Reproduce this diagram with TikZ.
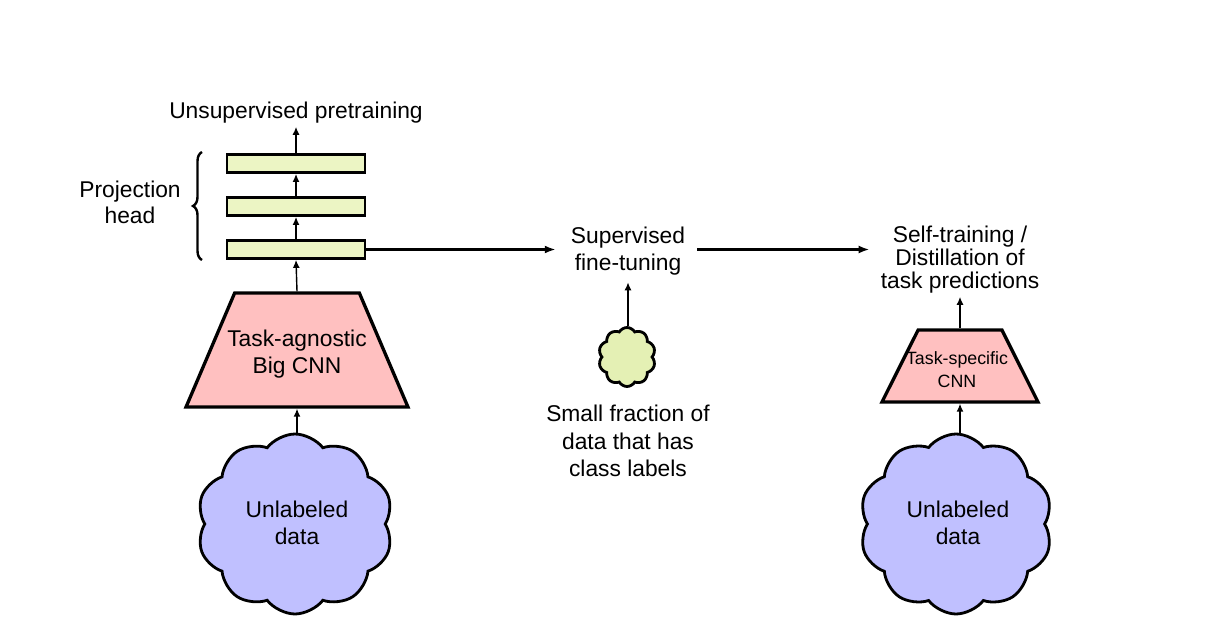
\documentclass[tikz,border=0pt]{standalone}
\usepackage{fontspec}
\setmainfont{Liberation Sans}
\usetikzlibrary{arrows.meta,shapes.geometric,shapes.symbols,decorations.pathreplacing}
\definecolor{barfill}{RGB}{236,245,196}
\definecolor{trapfill}{RGB}{255,192,192}
\definecolor{cloudfill}{RGB}{192,192,255}
\definecolor{smallcloud}{RGB}{228,240,180}
\begin{document}
\begin{tikzpicture}[x=1pt,y=-1pt,
  lbl/.style={align=center,inner sep=3pt,font=\fontsize{22.8}{27}\selectfont},
  bar/.style={draw,line width=2.8pt,fill=barfill,minimum width=138pt,minimum height=18pt,inner sep=0pt},
  trap/.style={draw,line width=3.3pt,fill=trapfill,trapezium,trapezium stretches=true,inner sep=2pt},
  datacloud/.style={draw,line width=2.8pt,fill=cloudfill,cloud,cloud puffs=10,cloud puff arc=105,aspect=1.1,inner sep=2pt},
  arr/.style={line width=1.4pt,-{Latex[length=8pt,width=7pt]}},
  harr/.style={line width=2.2pt,-{Latex[length=11pt,width=8pt]}}]
\useasboundingbox (0,0) rectangle (1218,640);

% left column
\node[lbl] (unsup) at (296,113) {Unsupervised pretraining};
\node[bar] (b1) at (296,163.5) {};
\node[bar] (b2) at (296,206.5) {};
\node[bar] (b3) at (296,249.5) {};
\draw[line width=2.4pt,decorate,decoration={brace,amplitude=9pt}] (202,260) -- (202,152);
\node[lbl,font=\fontsize{22.8}{26}\selectfont] (proj) at (130,202) {Projection\\head};
\node[trap,trapezium left angle=68.7,trapezium right angle=68.7,minimum width=222pt,minimum height=114pt] (big) at (297,350) {};
\node[lbl] (bigtxt) at (297,354) {Task-agnostic\\Big CNN};
\node[datacloud,minimum width=196pt,minimum height=180pt] (ul1) at (295,524) {};
\node[lbl,font=\fontsize{22.8}{27.5}\selectfont] (ul1txt) at (297,523) {Unlabeled\\data};

\draw[arr] (b1.north) -- (unsup.south);
\draw[arr] (b2.north) -- (b1.south);
\draw[arr] (b3.north) -- (b2.south);
\draw[arr] (big.north) -- (b3.south);
\draw[arr] (big.south |- ul1.north) -- (big.south);

% middle column
\node[lbl] (sup) at (628,251) {Supervised\\fine-tuning};
\node[draw,line width=2.8pt,fill=smallcloud,cloud,cloud puffs=10,cloud puff arc=120,aspect=1,
  minimum width=57pt,minimum height=59pt,inner sep=2pt] (sc) at (627,357) {};
\node[lbl,font=\fontsize{22.8}{27.5}\selectfont] (frac) at (628,441) {Small fraction of\\data that has\\class labels};
\draw[harr,shorten >=12pt] (b3.east) -- (b3.east -| sup.west);
\draw[arr] (sup.south |- sc.north) -- ([yshift=-4pt]sup.south);

% right column
\node[lbl,font=\fontsize{22.8}{23}\selectfont] (self) at (960,260) {Self-training /\\Distillation of\\task predictions};
\node[trap,trapezium left angle=66.7,trapezium right angle=66.7,minimum width=156pt,minimum height=72pt] (small) at (960,366) {};
\node[lbl,font=\fontsize{17.8}{23}\selectfont] (smalltxt) at (957,370) {Task-specific\\CNN};
\node[datacloud,minimum width=193pt,minimum height=180pt] (ul2) at (956,524) {};
\node[lbl,font=\fontsize{22.8}{27.5}\selectfont] (ul2txt) at (958,523) {Unlabeled\\data};
\draw[harr,shorten <=9pt,shorten >=8pt] (sup.east |- b3.east) -- (self.west |- b3.east);
\draw[arr] (small.north) -- (self.south);
\draw[arr] (small.south |- ul2.north) -- (small.south);
\end{tikzpicture}
\end{document}
